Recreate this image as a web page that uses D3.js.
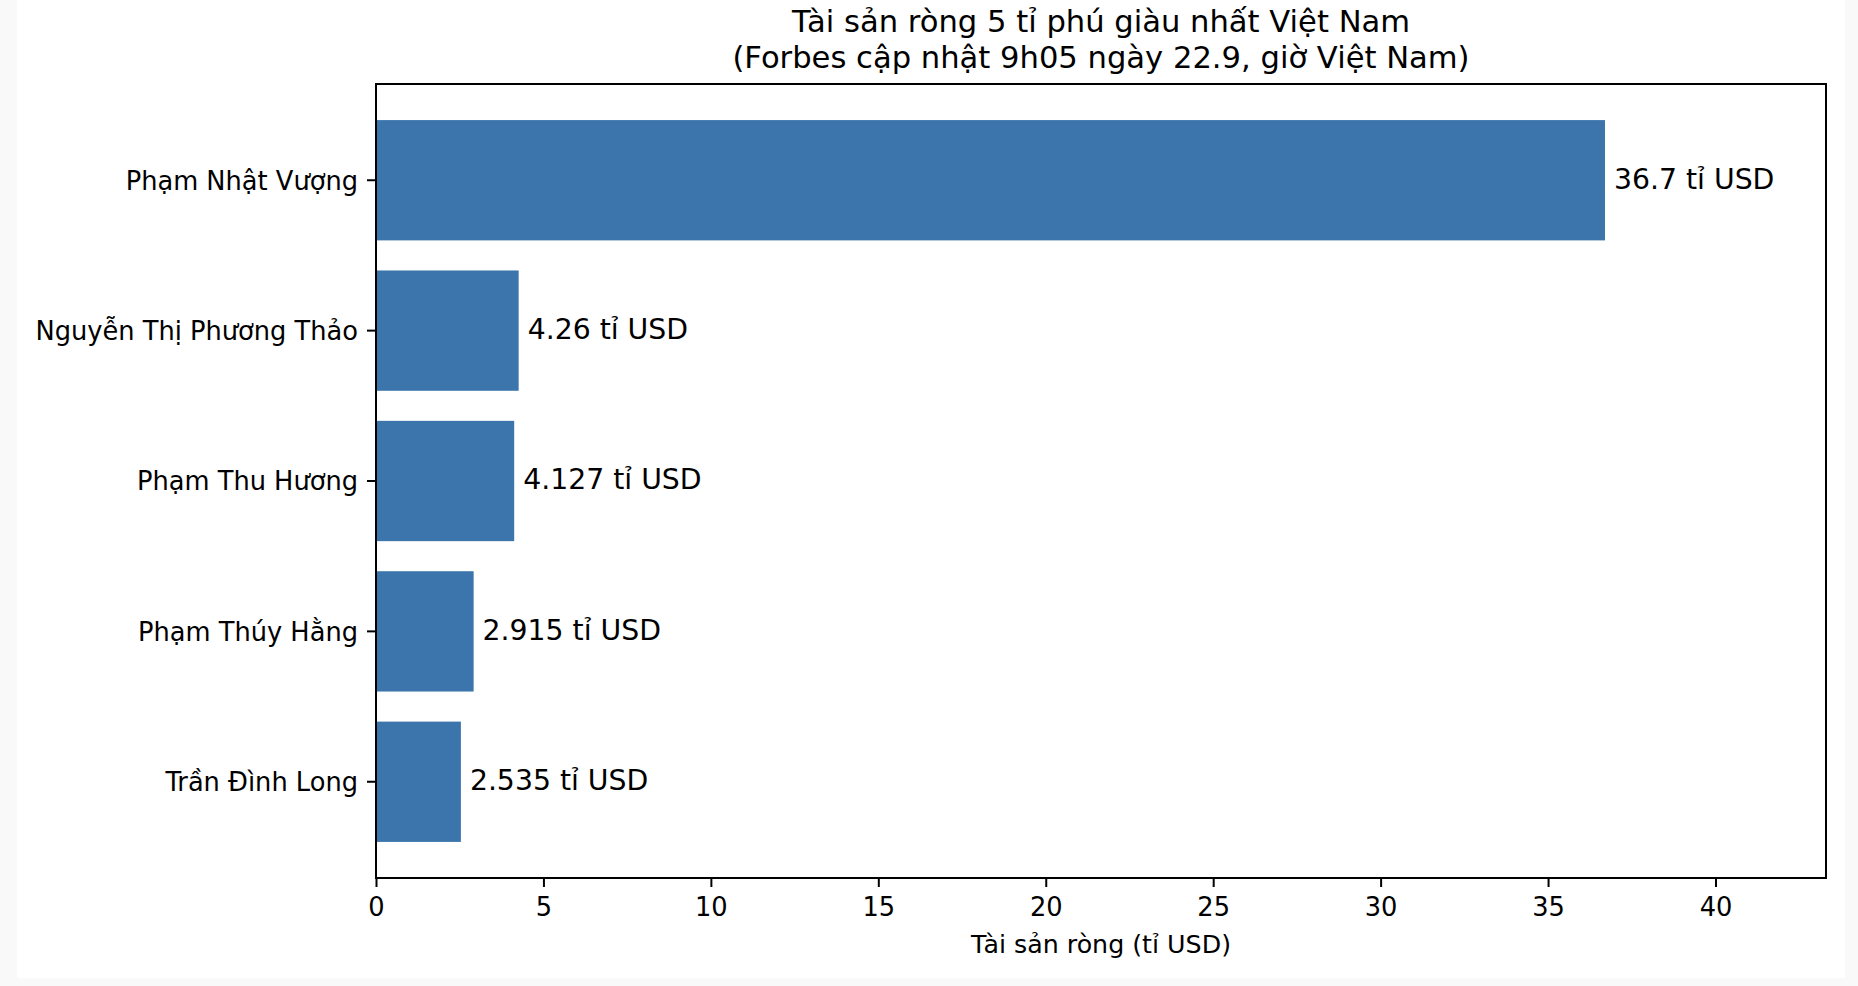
<!DOCTYPE html>
<html>
<head>
<meta charset="utf-8">
<script src="https://cdn.jsdelivr.net/npm/d3@7"></script>
<style>
  html, body { margin: 0; padding: 0; background: #f9f9f9; }
  svg { display: block; }
  text { font-family: "DejaVu Sans", sans-serif; fill: #000; }
</style>
</head>
<body>
<div class="chart"></div>
<script>

var names = ["Phạm Nhật Vượng", "Nguyễn Thị Phương Thảo", "Phạm Thu Hương", "Phạm Thúy Hằng", "Trần Đình Long"];
var netWorth = [36.7, 4.26, 4.127, 2.915, 2.535];
var valueLabels = ["36.7 tỉ USD", "4.26 tỉ USD", "4.127 tỉ USD", "2.915 tỉ USD", "2.535 tỉ USD"];
var xTicks = [0, 5, 10, 15, 20, 25, 30, 35, 40];
var xMax = 43.3;
var titleLines = ["Tài sản ròng 5 tỉ phú giàu nhất Việt Nam", "(Forbes cập nhật 9h05 ngày 22.9, giờ Việt Nam)"];
var xLabel = "Tài sản ròng (tỉ USD)";

var w = 1858;
var h = 986;
// plot box (window.top is taken, so prefixed names)
var plotL = 376, plotR = 1826, plotT = 84, plotB = 878;

var svg = d3.select(".chart")
            .append("svg")
            .attr("width", w)
            .attr("height", h);

// white figure area
svg.append("rect")
    .attr("x", 17).attr("y", 0)
    .attr("width", 1845 - 17).attr("height", 978)
    .attr("fill", "#fff");

var x = d3.scaleLinear().domain([0, xMax]).range([plotL, plotR]);
var y = d3.scaleBand().domain(names).range([plotT, plotB])
          .paddingInner(0.2).paddingOuter(0.24);

// bars
svg.selectAll("rect.bar")
    .data(names)
    .enter()
    .append("rect")
    .attr("class", "bar")
    .attr("x", x(0))
    .attr("y", function(d) { return y(d); })
    .attr("width", function(d, i) { return x(netWorth[i]) - x(0); })
    .attr("height", y.bandwidth())
    .attr("fill", "#3b75ac");

// value labels
svg.selectAll("text.value")
    .data(names)
    .enter()
    .append("text")
    .attr("class", "value")
    .attr("x", function(d, i) { return x(netWorth[i]) + 9; })
    .attr("y", function(d) { return y(d) + y.bandwidth() / 2 + 8.4; })
    .attr("font-size", "28.3px")
    .text(function(d, i) { return valueLabels[i]; });

// axes
var xAxis = d3.axisBottom(x).tickValues(xTicks).tickSize(9).tickPadding(9).tickFormat(d3.format("d"));
var yAxis = d3.axisLeft(y).tickSize(9).tickPadding(9);

var gx = svg.append("g").attr("transform", "translate(0," + plotB + ")").call(xAxis);
var gy = svg.append("g").attr("transform", "translate(" + plotL + ",0)").call(yAxis);

[gx, gy].forEach(function(g) {
    g.select(".domain").remove();
    g.selectAll(".tick line").attr("stroke", "#000").attr("stroke-width", 2);
    g.selectAll(".tick text").attr("font-size", "25.7px").attr("fill", "#000")
        .attr("font-family", "DejaVu Sans, sans-serif");
});
gx.selectAll(".tick text").attr("dy", null).attr("y", 38);
gy.selectAll(".tick text").attr("dy", null).attr("y", 9.3);

// frame
svg.append("rect")
    .attr("x", plotL).attr("y", plotT)
    .attr("width", plotR - plotL).attr("height", plotB - plotT)
    .attr("fill", "none")
    .attr("stroke", "#000")
    .attr("stroke-width", 2);

// x label
svg.append("text")
    .attr("x", (plotL + plotR) / 2)
    .attr("y", 953)
    .attr("text-anchor", "middle")
    .attr("font-size", "25.3px")
    .text(xLabel);

// title
svg.selectAll("text.title")
    .data(titleLines)
    .enter()
    .append("text")
    .attr("class", "title")
    .attr("x", (plotL + plotR) / 2)
    .attr("y", function(d, i) { return 32 + i * 36; })
    .attr("text-anchor", "middle")
    .attr("font-size", "30.6px")
    .text(function(d) { return d; });

</script>
</body>
</html>
